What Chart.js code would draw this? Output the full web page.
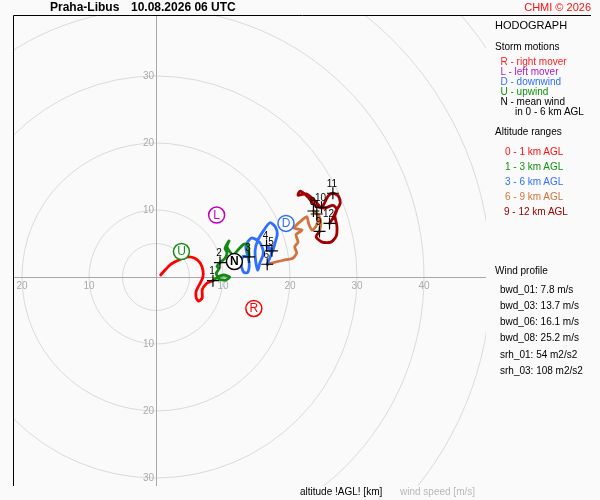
<!DOCTYPE html>
<html>
<head>
<meta charset="utf-8">
<script src="https://cdn.jsdelivr.net/npm/chart.js@4"></script>
<style>
html,body{margin:0;padding:0;background:#fafafa;}
#wrap{position:relative;width:600px;height:500px;overflow:hidden;font-family:"Liberation Sans",Arial,sans-serif;}
#c{position:absolute;left:0;top:0;}
.t{position:absolute;white-space:nowrap;font-size:10px;line-height:12px;color:#000;}
</style>
</head>
<body>
<div id="wrap"><canvas id="c" width="600" height="500"></canvas></div>
<script>
// ---- data (u = east component, v = north component, m/s) ----
const seg01U = [0.7,1.5,2.2,3.1,4.0,4.9,5.8,6.6,7.0,7.0,6.6,6.0,6.0,6.4,6.9,6.9,7.5,8.1,8.5];
const seg01V = [0.3,1.2,1.9,2.4,2.8,3.0,2.8,2.1,1.0,0.0,-0.9,-2.1,-3.1,-3.6,-3.1,-1.9,-1.0,-0.7,-0.55];
const seg13U = [8.5,9.25,10.1,11.0,10.4,9.4,9.0,9.4,9.1,9.55,10.3,10.6,10.3,10.9,10.6,11.5,12.2,13.1,13.7,13.9];
const seg13V = [-0.55,0.0,0.3,0.0,-0.45,-0.3,0.6,1.2,1.6,2.15,2.8,3.6,4.3,5.4,4.5,3.3,4.0,4.9,4.8,3.0];
const seg36U = [13.9,13.0,12.7,13.1,13.7,13.9,13.4,14.2,15.1,15.8,16.0,15.5,15.2,14.9,14.8,15.2,16.1,17.0,17.8,18.1,17.8,17.3,16.5,17.3,16.6];
const seg36V = [3.0,3.1,1.9,0.7,0.7,2.2,4.6,5.8,5.5,4.6,3.4,2.1,1.0,2.2,4.0,5.5,7.0,8.1,7.5,6.4,5.2,3.7,4.7,3.9,1.9];
const seg69U = [16.6,19.0,20.4,21.0,20.7,21.2,20.9,21.8,20.6,21.0,21.8,22.5,22.8,23.3,23.9,24.2,24.0,23.5,24.3,24.6,24.4];
const seg69V = [1.9,2.5,2.8,3.6,4.5,5.2,6.3,7.0,7.3,7.8,8.5,9.0,7.9,7.0,7.6,8.7,9.4,9.85,9.2,8.0,6.8];
const seg912U = [24.4,23.9,24.8,26.1,26.9,27.0,26.7,27.0,26.4,25.2,23.7,22.7,21.5,21.2,22.4,23.6,24.7,25.7,26.4,27.2,27.5,26.9,26.4,25.9];
const seg912V = [6.8,6.0,5.2,5.2,6.1,7.6,9.1,10.1,10.7,10.3,10.7,11.9,12.8,12.2,12.4,11.5,10.4,12.1,12.5,12.1,11.0,9.9,8.8,8.0];

const kmLabels = ['1','2','3','4','5','6','7','8','9','10','11','12'];
const kmU = [8.5,9.55,13.9,16.5,17.3,16.6,24.0,23.5,24.4,24.7,26.4,25.9];
const kmV = [-0.55,2.15,3.0,4.7,3.9,1.9,9.4,9.85,6.8,10.4,12.5,8.0];

const stormLetters = ['R','L','D','U','N'];
const stormU = [14.6,9.05,19.4,3.8,11.7];
const stormV = [-4.7,9.25,8.0,3.8,2.3];
const stormColors = ['#ff0000','#c000c0','#2f6fff','#109010','#000000'];

const ringRadii = [5,10,20,30,40,50,60,70,80,90];
const xTickValues = [-20,-10,10,20,30,40];
const yTickValues = [30,20,10,-10,-20,-30];

const segColors = ['#ff0000','#108a10','#2f6fff','#d2733c','#a00000'];

const panelTexts = [
  ['Praha-Libus',50,7.5,'#000',12,'bold'],
  ['10.08.2026 06 UTC',131,7.5,'#000',12,'bold'],
  ['HODOGRAPH',495,26,'#000',11,'normal'],
  ['Storm motions',495,46.7,'#000',10,'normal'],
  ['R - right mover',500.5,61.7,'#ff2020',10,'normal'],
  ['L - left mover',500.5,71.7,'#b020c8',10,'normal'],
  ['D - downwind',500.5,81.7,'#2f6fff',10,'normal'],
  ['U - upwind',500.5,91.7,'#109010',10,'normal'],
  ['N - mean wind',500.5,101.7,'#000',10,'normal'],
  ['in 0 - 6 km AGL',515,111.7,'#000',10,'normal'],
  ['Altitude ranges',495,131.7,'#000',10,'normal'],
  ['0 - 1 km AGL',505,151.7,'#ff1010',10,'normal'],
  ['1 - 3 km AGL',505,166.7,'#109010',10,'normal'],
  ['3 - 6 km AGL',505,182,'#2f6fff',10,'normal'],
  ['6 - 9 km AGL',505,197,'#d2733c',10,'normal'],
  ['9 - 12 km AGL',504,212,'#a00000',10,'normal'],
  ['Wind profile',495,271,'#000',10,'normal'],
  ['bwd_01: 7.8 m/s',500,290,'#000',10,'normal'],
  ['bwd_03: 13.7 m/s',500,306,'#000',10,'normal'],
  ['bwd_06: 16.1 m/s',500,322,'#000',10,'normal'],
  ['bwd_08: 25.2 m/s',500,338,'#000',10,'normal'],
  ['srh_01: 54 m2/s2',500,355,'#000',10,'normal'],
  ['srh_03: 108 m2/s2',500,371,'#000',10,'normal'],
  ['altitude !AGL! [km]',300,492,'#000',10,'normal'],
  ['wind speed [m/s]',400,492,'#b8b8b8',10,'normal']
];

// ---- build ----
const wrap = document.getElementById('wrap');
panelTexts.forEach(([txt,x,cy,col,size,w])=>{
  const d=document.createElement('div');
  d.className='t';
  d.textContent=txt;
  d.style.left=x+'px';
  d.style.top=(cy-size*0.6)+'px';
  d.style.fontSize=size+'px';
  d.style.lineHeight=(size*1.2)+'px';
  d.style.fontWeight=w;
  d.style.color=col;
  wrap.appendChild(d);
});
const cr=document.createElement('div');
cr.className='t';
cr.textContent='CHMI © 2026';
cr.style.right='9px';
cr.style.top=(7.5-6.6)+'px';
cr.style.fontSize='11px';
cr.style.lineHeight='13.2px';
cr.style.color='#ff1010';
wrap.appendChild(cr);

function pts(u,v){return u.map((a,i)=>({x:a,y:v[i]}));}

const hodoPlugin = {
  id:'hodo',
  beforeDatasetsDraw(chart){
    const {ctx, chartArea:a, scales:{x,y}} = chart;
    const ox=x.getPixelForValue(0), oy=y.getPixelForValue(0);
    ctx.save();
    ctx.beginPath(); ctx.rect(a.left,a.top,a.right-a.left,a.bottom-a.top); ctx.clip();
    ctx.strokeStyle='#dadada'; ctx.lineWidth=1;
    ringRadii.forEach(r=>{
      const rp=x.getPixelForValue(r)-ox;
      ctx.beginPath(); ctx.arc(ox,oy,rp,0,Math.PI*2); ctx.stroke();
    });
    ctx.strokeStyle='#a8a8a8';
    ctx.beginPath();
    ctx.moveTo(a.left,Math.round(oy)+0.5); ctx.lineTo(a.right,Math.round(oy)+0.5);
    ctx.moveTo(Math.round(ox)+0.5,a.top); ctx.lineTo(Math.round(ox)+0.5,a.bottom);
    ctx.stroke();
    ctx.fillStyle='#aaaaaa';
    ctx.font='10px "Liberation Sans", Arial, sans-serif';
    ctx.textAlign='center'; ctx.textBaseline='middle';
    xTickValues.forEach(t=>{ ctx.fillText(String(Math.abs(t)), x.getPixelForValue(t), oy+9); });
    ctx.textAlign='right';
    yTickValues.forEach(t=>{ ctx.fillText(String(Math.abs(t)), ox-2, y.getPixelForValue(t)); });
    ctx.restore();
    // frame
    ctx.save();
    ctx.strokeStyle='#000'; ctx.lineWidth=1;
    ctx.beginPath();
    ctx.moveTo(a.left+0.5,a.bottom); ctx.lineTo(a.left+0.5,a.top+0.5); ctx.lineTo(591,a.top+0.5);
    ctx.stroke();
    ctx.restore();
  },
  afterDatasetsDraw(chart){
    const {ctx} = chart;
    ctx.save();
    const km = chart.getDatasetMeta(1);
    ctx.fillStyle='#000';
    ctx.font='10px "Liberation Sans", Arial, sans-serif';
    ctx.textAlign='center'; ctx.textBaseline='middle';
    km.data.forEach((p,i)=>{ ctx.fillText(kmLabels[i], p.x-1, p.y-9); });
    const sm = chart.getDatasetMeta(0);
    sm.data.forEach((p,i)=>{
      ctx.fillStyle=stormColors[i];
      ctx.font=(stormLetters[i]==='N'?'bold ':'')+'12px "Liberation Sans", Arial, sans-serif';
      ctx.fillText(stormLetters[i], p.x, p.y+0.5);
    });
    ctx.restore();
  }
};

function seg(u,v,col){
  return {data:pts(u,v),showLine:true,borderColor:col,backgroundColor:col,borderWidth:2.8,pointRadius:0,tension:0.25,borderJoinStyle:'round',borderCapStyle:'round'};
}

new Chart(document.getElementById('c'),{
  type:'scatter',
  data:{datasets:[
    {data:pts(stormU,stormV),pointRadius:8,pointBorderWidth:1.5,pointBackgroundColor:'#ffffff',pointBorderColor:stormColors,showLine:false},
    {data:pts(kmU,kmV),pointStyle:'cross',pointRadius:6,pointBorderWidth:1.2,pointBorderColor:'#000',showLine:false},
    seg(seg01U,seg01V,segColors[0]),
    seg(seg13U,seg13V,segColors[1]),
    seg(seg36U,seg36V,segColors[2]),
    seg(seg69U,seg69V,segColors[3]),
    seg(seg912U,seg912V,segColors[4])
  ]},
  options:{
    responsive:false,animation:false,devicePixelRatio:1,
    layout:{padding:{left:13,top:15,right:114,bottom:14}},
    plugins:{legend:{display:false},tooltip:{enabled:false}},
    scales:{
      x:{type:'linear',display:false,min:-21.343,max:49.254},
      y:{type:'linear',display:false,min:-31.194,max:39.104}
    }
  },
  plugins:[hodoPlugin]
});
</script>
</body>
</html>
